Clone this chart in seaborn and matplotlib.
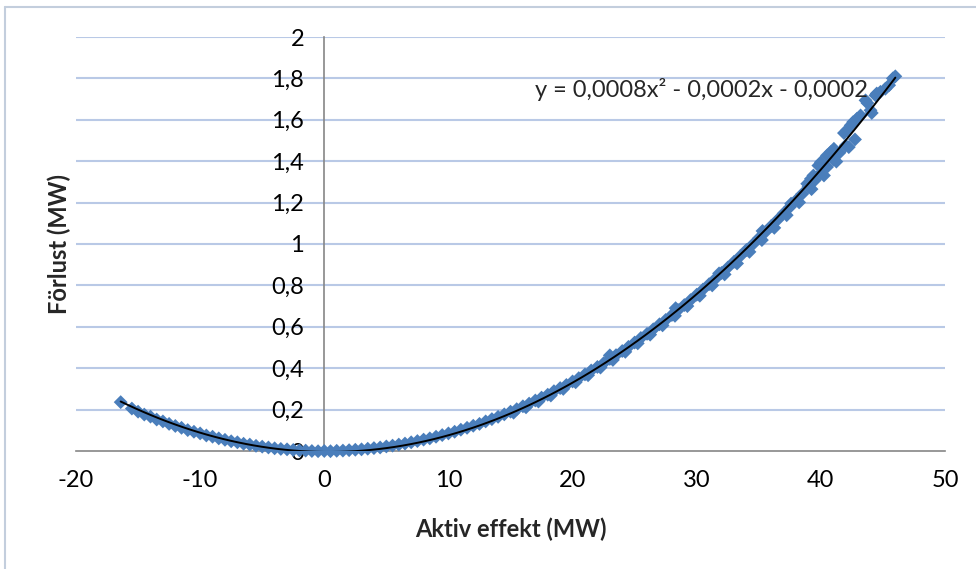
import matplotlib
matplotlib.use("Agg")
import matplotlib.pyplot as plt
import seaborn as sns
import pandas as pd
from matplotlib.lines import Line2D

# ---- data ----
aktiv_main = [-16.4, -15.5, -15.0, -14.5, -14.0, -13.5, -13.0, -12.5, -12.0, -11.5, -11.0,
              -10.5, -10.0, -9.5, -9.0, -8.5, -8.0, -7.5, -7.0, -6.5, -6.0, -5.5, -5.0,
              -4.5, -4.0, -3.5, -3.0, -2.5, -2.0, -1.5, -1.0, -0.5, 0.0, 0.5, 1.0, 1.5,
              2.0, 2.5, 3.0, 3.5, 4.0, 4.5, 5.0, 5.5, 6.0, 6.5, 7.0, 7.5, 8.0, 8.5, 9.0,
              9.5, 10.0, 10.5, 11.0, 11.5, 12.0, 12.5, 13.0, 13.5, 14.0, 14.5, 15.0, 15.5,
              16.0, 16.5, 17.0, 17.5, 18.0, 18.5, 19.0, 19.5, 20.0, 20.5, 21.0, 21.5, 22.0,
              22.5, 23.0, 23.5, 24.0, 24.5, 25.0, 25.5, 26.0, 26.5, 27.0, 27.5, 28.0, 28.5,
              29.0, 29.5, 30.0, 30.5, 31.0, 31.5, 32.0, 32.5, 33.0, 33.5, 34.0, 34.5, 35.0,
              35.5, 36.0, 36.5, 37.0, 37.5, 38.0, 38.5, 39.0, 39.5, 40.0, 40.5, 41.0, 41.5,
              42.0]
forlust_main = [0.236, 0.205, 0.190, 0.176, 0.166, 0.152, 0.143, 0.131, 0.121, 0.112, 0.101,
                0.093, 0.085, 0.075, 0.069, 0.061, 0.054, 0.047, 0.042, 0.035, 0.031, 0.025, 0.021,
                0.017, 0.013, 0.010, 0.008, 0.005, 0.003, 0.002, 0.000, -0.001, 0.000, -0.001, 0.001, 0.002,
                0.004, 0.006, 0.008, 0.011, 0.014, 0.017, 0.022, 0.026, 0.031, 0.036, 0.042, 0.048, 0.055, 0.061, 0.069,
                0.077, 0.085, 0.093, 0.103, 0.112, 0.122, 0.131, 0.143, 0.154, 0.165, 0.177, 0.190, 0.202,
                0.216, 0.229, 0.244, 0.258, 0.272, 0.289, 0.304, 0.319, 0.336, 0.352, 0.370, 0.389, 0.406,
                0.424, 0.445, 0.463, 0.483, 0.503, 0.524, 0.546, 0.566, 0.588, 0.612, 0.633, 0.657, 0.681,
                0.705, 0.729, 0.755, 0.780, 0.806, 0.832, 0.860, 0.886, 0.914, 0.941, 0.971, 0.997, 1.028,
                1.056, 1.087, 1.116, 1.148, 1.178, 1.211, 1.242, 1.276, 1.307, 1.341, 1.372, 1.408, 1.441,
                1.476]

aktiv_lower = [15.25, 16.25, 17.25, 18.25, 19.25, 20.25, 21.25, 22.25, 23.25, 24.25, 25.25,
               26.25, 27.25, 28.25, 29.25, 30.25, 31.25, 32.25, 33.25, 34.25, 35.25, 36.25,
               37.25, 38.25, 39.25, 40.25, 41.25, 42.25, 42.75]
forlust_lower = [0.185, 0.211, 0.239, 0.268, 0.300, 0.332, 0.366, 0.403, 0.440, 0.479, 0.520,
                 0.562, 0.607, 0.653, 0.700, 0.750, 0.800, 0.853, 0.906, 0.962, 1.019, 1.078,
                 1.139, 1.201, 1.265, 1.331, 1.398, 1.468, 1.505]

aktiv_upper = [23.0, 28.3, 31.8, 35.3, 37.6, 38.9, 39.2, 39.4, 39.8, 40.0, 40.5, 40.8, 41.05,
               41.86, 42.1, 42.4, 42.6, 42.9, 43.2, 43.6, 43.75, 44.0, 44.1, 44.4, 44.5, 44.8,
               45.2, 45.5, 45.8, 46.0]
forlust_upper = [0.462, 0.690, 0.858, 1.063, 1.195, 1.291, 1.315, 1.331, 1.379, 1.395, 1.428,
                 1.444, 1.460, 1.536, 1.549, 1.573, 1.589, 1.605, 1.621, 1.694, 1.681, 1.646,
                 1.633, 1.718, 1.727, 1.735, 1.750, 1.767, 1.800, 1.810]

x_ticks = [-20, -10, 0, 10, 20, 30, 40, 50]
x_tick_labels = ["-20", "-10", "0", "10", "20", "30", "40", "50"]
y_ticks = [0, 0.2, 0.4, 0.6, 0.8, 1.0, 1.2, 1.4, 1.6, 1.8, 2.0]
y_tick_labels = ["0", "0,2", "0,4", "0,6", "0,8", "1", "1,2", "1,4", "1,6", "1,8", "2"]
equation = "y = 0,0008x² - 0,0002x - 0,0002"
x_title = "Aktiv effekt (MW)"
y_title = "Förlust (MW)"

df = pd.DataFrame({
    "aktiv": aktiv_main + aktiv_lower + aktiv_upper,
    "forlust": forlust_main + forlust_lower + forlust_upper,
})

# ---- style ----
sns.set_theme(style="white")
plt.rcParams["font.family"] = ["Lato", "DejaVu Sans"]

FS = 17

fig = plt.figure(figsize=(9.76, 5.69), dpi=100)
ax = fig.add_axes([76 / 976, 1 - 451 / 569, 869 / 976, 414 / 569])

point_color = "#4A7EBB"
grid_color = "#B9C9E6"
axis_color = "#868686"

ax.set_xlim(-20, 50)
ax.set_ylim(0, 2)

for yv in y_ticks[1:]:
    ax.axhline(yv, color=grid_color, lw=1.5, zorder=0)

sns.scatterplot(data=df, x="aktiv", y="forlust", ax=ax, marker="D", s=50,
                color=point_color, edgecolor="none", linewidth=0, zorder=2,
                clip_on=False, legend=False)
sns.regplot(data=df, x="aktiv", y="forlust", ax=ax, order=2, scatter=False, ci=None,
            truncate=True, line_kws=dict(color="black", lw=1.4, zorder=3))

for s in ["top", "right"]:
    ax.spines[s].set_visible(False)
ax.spines["left"].set_position(("data", 0))
for s in ["left", "bottom"]:
    ax.spines[s].set_color(axis_color)
    ax.spines[s].set_linewidth(1.2)
    ax.spines[s].set_zorder(1)

ax.set_xticks(x_ticks)
ax.set_xticklabels(x_tick_labels)
ax.set_yticks(y_ticks)
ax.set_yticklabels(y_tick_labels)
ax.tick_params(axis="both", direction="out", length=5.5, width=1.2, color=axis_color,
               labelsize=FS, labelcolor="black")
ax.tick_params(axis="y", pad=9)
ax.tick_params(axis="x", pad=8)
ax.grid(False)

ax.set_xlabel(x_title, fontsize=FS, fontweight="bold", labelpad=0)
ax.set_ylabel(y_title, fontsize=FS, fontweight="bold", labelpad=0)
ax.xaxis.set_label_coords(0.5, -0.16)
ax.yaxis.set_label_coords(-0.006, 0.5)

ax.text(17.0, 1.745, equation, fontsize=FS, ha="left", va="center", zorder=4)

# chart border
fig.add_artist(Line2D([5 / 976, 5 / 976], [0, 1 - 7 / 569], transform=fig.transFigure,
                      color="#C3CEDD", lw=1.5))
fig.add_artist(Line2D([5 / 976, 1], [1 - 7 / 569, 1 - 7 / 569], transform=fig.transFigure,
                      color="#C3CEDD", lw=1.5))

fig.savefig("out.png", dpi=100)
